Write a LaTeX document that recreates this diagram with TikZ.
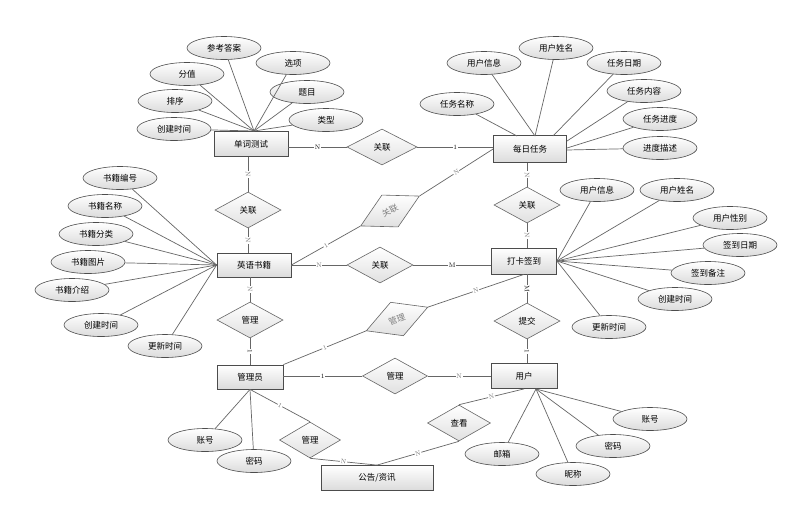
\documentclass[tikz,border=0pt]{standalone}
\usepackage{fontspec}
\newfontfamily\cjk{Noto Sans CJK SC}
\usetikzlibrary{shapes.geometric,calc}
\begin{document}
\begin{tikzpicture}[x=1pt,y=-1pt,
  ent/.style={draw=black!70, line width=0.8pt, top color=white, bottom color=black!14, minimum width=74pt, minimum height=25pt, inner sep=0pt, font=\cjk\fontsize{8.5}{9}\selectfont},
  attr/.style={ellipse, draw=black!70, line width=0.6pt, top color=white, bottom color=black!14, minimum width=74pt, minimum height=23pt, inner sep=0pt, font=\cjk\fontsize{8.5}{9}\selectfont},
  rel/.style={diamond, draw=black!60, line width=0.6pt, top color=white, bottom color=black!12, minimum width=66pt, minimum height=36pt, inner sep=0pt, font=\cjk\fontsize{8.5}{9}\selectfont},
  link/.style={draw=black!60, line width=0.7pt},
  card/.style={font=\fontsize{6.5}{7}\selectfont, fill=white, inner sep=0.6pt, text=black!55, sloped},
]
\useasboundingbox[fill=white] (0,0) rectangle (793,515);

% entities
\node[ent] (test) at (251,144) {单词测试};
\node[ent, minimum width=73pt, minimum height=27pt] (task) at (530,149) {每日任务};
\node[ent, minimum height=24pt] (book) at (254,265) {英语书籍};
\node[ent, minimum width=65pt, minimum height=26pt] (checkin) at (524,261) {打卡签到};
\node[ent, minimum width=66pt, minimum height=24pt] (admin) at (250,377) {管理员};
\node[ent, minimum width=66pt] (user) at (524,376) {用户};
\node[ent, minimum width=112pt] (notice) at (377,478) {公告/资讯};

% relations
\node[rel, minimum width=70pt] (r1) at (382,147) {关联};
\node[rel] (r2) at (248,210) {关联};
\node[rel, rotate=27, text=black!50] (r3) at (390,211) {关联};
\node[rel] (r4) at (380,265) {关联};
\node[rel] (r5) at (527,205) {关联};
\node[rel] (r6) at (250,320) {管理};
\node[rel, rotate=21, text=black!50] (r7) at (397,319) {管理};
\node[rel] (r8) at (527,321) {提交};
\node[rel, minimum width=65pt] (r9) at (395,376) {管理};
\node[rel, minimum width=61pt] (r10) at (310,440) {管理};
\node[rel, minimum width=63pt] (r11) at (459,423) {查看};

% attributes of 单词测试
\node[attr] (t1) at (224,48) {参考答案};
\node[attr] (t2) at (293,63) {选项};
\node[attr] (t3) at (187,74) {分值};
\node[attr] (t4) at (307,92) {题目};
\node[attr] (t5) at (175,101) {排序};
\node[attr] (t6) at (326,120) {类型};
\node[attr] (t7) at (174,129) {创建时间};
\coordinate (tc) at (254,131);
\foreach \n in {t1,t2,t3,t4,t5,t6,t7} \draw[link] (\n) -- (tc);

% attributes of 每日任务
\node[attr] (d1) at (457,104) {任务名称};
\node[attr] (d2) at (484,63) {用户信息};
\node[attr] (d3) at (556,48) {用户姓名};
\node[attr] (d4) at (624,63) {任务日期};
\node[attr] (d5) at (644,91) {任务内容};
\node[attr] (d6) at (660,119) {任务进度};
\node[attr] (d7) at (660,148) {进度描述};
\coordinate (dc1) at (517,136);
\coordinate (dc2) at (535,136);
\coordinate (dc3) at (553,136);
\coordinate (dc4) at (567,141);
\coordinate (dc5) at (567,148);
\coordinate (dc6) at (567,150);
\draw[link] (d1) -- (dc1);
\draw[link] (d2) -- (dc2);
\draw[link] (d3) -- (dc2);
\draw[link] (d4) -- (dc3);
\draw[link] (d5) -- (dc4);
\draw[link] (d6) -- (dc5);
\draw[link] (d7) -- (dc6);

% attributes of 英语书籍
\node[attr] (b1) at (120,178) {书籍编号};
\node[attr] (b2) at (105,206) {书籍名称};
\node[attr] (b3) at (96,234) {书籍分类};
\node[attr] (b4) at (88,262) {书籍图片};
\node[attr] (b5) at (72,290) {书籍介绍};
\node[attr] (b6) at (101,325) {创建时间};
\node[attr] (b7) at (165,346) {更新时间};
\foreach \n in {b1,b2,b3,b4,b5,b6,b7} \draw[link] (\n) -- (book.west);

% attributes of 打卡签到
\node[attr] (c1) at (597,190) {用户信息};
\node[attr] (c2) at (677,190) {用户姓名};
\node[attr] (c3) at (730,218) {用户性别};
\node[attr] (c4) at (740,245) {签到日期};
\node[attr] (c5) at (708,273) {签到备注};
\node[attr] (c6) at (675,299) {创建时间};
\node[attr] (c7) at (609,327) {更新时间};
\foreach \n in {c1,c2,c3,c4,c5,c6,c7} \draw[link] (\n) -- (checkin.east);

% attributes of 管理员
\node[attr] (m1) at (205,440) {账号};
\node[attr] (m2) at (254,461) {密码};
\draw[link] (m1) -- (admin.south);
\draw[link] (m2) -- (admin.south);

% attributes of 用户
\node[attr] (u1) at (650,419) {账号};
\node[attr] (u2) at (613,446) {密码};
\node[attr] (u3) at (573,474) {昵称};
\node[attr] (u4) at (502,454) {邮箱};
\coordinate (uc) at (536,389);
\foreach \n in {u1,u2,u3,u4} \draw[link] (\n) -- (uc);

% relationship connectors
\draw[link] (test.east |- r1) -- node[card, text=black]{N} (r1.west);
\draw[link] (r1.east) -- node[card, text=black]{1} (task.west |- r1);
\draw[link] (r2.north |- test.south) -- node[card]{N} (r2.north);
\draw[link] (r2.south) -- node[card]{N} (r2.south |- book.north);
\draw[link] (book.east) -- node[card]{1} (r3.west);
\draw[link] (r3.east) -- node[card]{N} (task.west);
\draw[link] (book.east |- r4) -- node[card]{N} (r4.west);
\draw[link] (r4.east) -- node[card, text=black]{M} (checkin.west |- r4);
\draw[link] (r5.north |- task.south) -- node[card]{N} (r5.north);
\draw[link] (r5.south) -- node[card]{N} (r5.south |- checkin.north);
\draw[link] (r6.north |- book.south) -- node[card]{N} (r6.north);
\draw[link] (r6.south) -- node[card, text=black]{1} (r6.south |- admin.north);
\draw[link] (admin.north east) -- node[card]{1} (r7.west);
\draw[link] (r7.east) -- node[card]{N} (checkin.south);
\draw[link] (r8.north |- checkin.south) -- node[card, text=black]{M} (r8.north);
\draw[link] (r8.south) -- node[card, text=black]{1} (r8.south |- user.north);
\draw[link] (admin.east |- r9) -- node[card, text=black]{1} (r9.west);
\draw[link] (r9.east) -- node[card]{N} (user.west |- r9);
\draw[link] (admin.south) -- node[card]{1} (r10.north);
\draw[link] (r10.south) -- node[card]{N} (notice.north);
\draw[link] (notice.north) -- node[card]{N} (r11.south);
\draw[link] (r11.north) -- node[card]{N} (user.south);
\end{tikzpicture}
\end{document}
